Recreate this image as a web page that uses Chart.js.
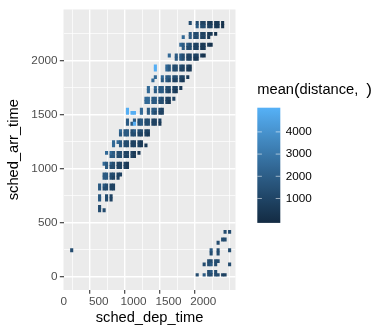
<!DOCTYPE html>
<html>
<head>
<meta charset="utf-8">
<script src="https://cdn.jsdelivr.net/npm/chart.js@4.4.0/dist/chart.umd.min.js"></script>
<style>
  html, body { margin: 0; padding: 0; background: #ffffff; }
  #wrap { width: 384px; height: 336px; }
</style>
</head>
<body>
<div id="wrap"><canvas id="chart"></canvas></div>
<script>
// --- datos ---
const xTicks = [0, 500, 1000, 1500, 2000];
const xMinor = [250, 750, 1250, 1750, 2250];
const yTicks = [0, 500, 1000, 1500, 2000];
const yMinor = [250, 750, 1250, 1750, 2250];
const legendBreaks = [1000, 2000, 3000, 4000];
const fillLimits = [-100, 5090];

// nivel -> distancia media estimada
const levelDist = { '1': 200, '2': 500, '3': 900, '4': 1300, '5': 1850, '6': 2450, '7': 3000, '8': 3700, '9': 4983 };

// franjas de media hora de llegada (inicio) y, por franja, "hora:AB" (A = :00-:29, B = :30-:59 de salida)
const arrSlots = [2330, 2300, 2230, 2200, 2130, 2100, 2030, 2000, 1930, 1900, 1830, 1800,
                  1730, 1700, 1630, 1600, 1530, 1500, 1430, 1400, 1330, 1300, 1230, 1200,
                  1130, 1100, 1030, 1000, 930, 900, 830, 800, 730, 700, 630, 600,
                  400, 330, 300, 230, 200, 130, 100, 30, 0];
const distRows = [
  "18:4. 19:43 20:32 21:22 22:21",
  "19:54 20:43 21:32 22:21",
  "18:54 19:43 20:32 21:21",
  "17:6. 18:54 19:43 20:32",
  "16:.6 17:55 18:43 19:32 20:22 21:1.",
  "17:54 18:43 19:32 20:2.",
  "15:6. 16:55 17:43 18:33 19:32 20:1.",
  "16:55 17:43 18:32 19:2.",
  "13:9. 14:.6 15:54 16:44 17:33 18:2.",
  "13:9. 14:.6 15:54 16:43 17:32 18:2.",
  "13:6. 14:65 15:54 16:43 17:32",
  "12:.6 14:55 15:43 16:33 17:2.",
  "12:6. 13:65 14:54 15:43 16:32",
  "12:6. 13:55 14:54 15:33 16:2.",
  "11:.6 12:65 13:55 14:43 15:33",
  "11:.6 12:65 13:54 14:43 15:2.",
  "9:9. 11:6. 12:55 13:54 14:3.",
  "9:99 10:9. 11:6. 12:55 13:43 14:3.",
  "9:5. 10:54 11:54 12:43 13:33",
  "9:55 10:94 11:54 12:43 13:32",
  "8:65 9:54 10:54 11:43 12:3.",
  "8:55 9:54 10:43 11:33 12:2.",
  "7:66 8:54 9:43 10:33 11:2.",
  "7:6. 8:54 9:43 10:33 11:22",
  "6:66 7:54 8:43 9:33 10:22",
  "6:.5 7:54 8:43 9:33 10:2.",
  "5:.6 6:55 7:43 8:33 9:2.",
  "6:54 7:43 8:33 9:2.",
  "5:.5 6:54 7:43 8:3.",
  "5:.5 6:54 7:33",
  "5:55 6:43 7:3.",
  "5:54 6:43 7:3.",
  "5:5. 6:43",
  "5:5. 6:43",
  "5:4.",
  "5:44",
  "23:44",
  "22:.4 23:4.",
  "22:4.",
  "1:4. 21:5. 22:4. 23:.4",
  "21:4. 22:4.",
  "20:.4 21:44 22:4.",
  "20:44 21:54 23:.4",
  "20:.4 21:54",
  "19:4. 20:54 21:44 22:43 23:3."
];

// --- construir celdas ---
const tiles = [];
arrSlots.forEach((arr, i) => {
  distRows[i].split(' ').forEach(g => {
    const [h, ab] = g.split(':');
    [0, 1].forEach(k => {
      const c = ab[k];
      if (c !== '.') tiles.push({ dep: Number(h) * 100 + k * 30, arr: arr, dist: levelDist[c] });
    });
  });
});

// --- escala de color (interpolación en Lab, como ggplot) ---
function hexToLab(hex) {
  const n = parseInt(hex.slice(1), 16);
  const lin = c => { c /= 255; return c <= 0.04045 ? c / 12.92 : Math.pow((c + 0.055) / 1.055, 2.4); };
  const r = lin((n >> 16) & 255), g = lin((n >> 8) & 255), b = lin(n & 255);
  const X = (0.4124 * r + 0.3576 * g + 0.1805 * b) / 0.95047;
  const Y = 0.2126 * r + 0.7152 * g + 0.0722 * b;
  const Z = (0.0193 * r + 0.1192 * g + 0.9505 * b) / 1.08883;
  const f = t => t > 0.008856 ? Math.cbrt(t) : 7.787 * t + 16 / 116;
  return [116 * f(Y) - 16, 500 * (f(X) - f(Y)), 200 * (f(Y) - f(Z))];
}
function labToRgb([L, a, bb]) {
  const fy = (L + 16) / 116, fx = fy + a / 500, fz = fy - bb / 200;
  const inv = t => t > 0.206893 ? t * t * t : (t - 16 / 116) / 7.787;
  const X = inv(fx) * 0.95047, Y = inv(fy), Z = inv(fz) * 1.08883;
  let r = 3.2406 * X - 1.5372 * Y - 0.4986 * Z;
  let g = -0.9689 * X + 1.8758 * Y + 0.0415 * Z;
  let b = 0.0557 * X - 0.2040 * Y + 1.0570 * Z;
  const gam = c => { c = c <= 0.0031308 ? 12.92 * c : 1.055 * Math.pow(c, 1 / 2.4) - 0.055; return Math.round(Math.min(1, Math.max(0, c)) * 255); };
  return `rgb(${gam(r)},${gam(g)},${gam(b)})`;
}
const lowLab = hexToLab('#132B43');
const highLab = hexToLab('#56B1F7');
function fillColor(v) {
  const t = Math.min(1, Math.max(0, (v - fillLimits[0]) / (fillLimits[1] - fillLimits[0])));
  return labToRgb(lowLab.map((c, i) => c + (highLab[i] - c) * t));
}

const FONT = 'Liberation Sans';
Chart.defaults.font.family = FONT;

// fondo gris del panel
const panelBg = {
  id: 'panelBg',
  beforeDraw(chart) {
    const { ctx, chartArea: a } = chart;
    ctx.save();
    ctx.fillStyle = '#EBEBEB';
    ctx.fillRect(a.left, a.top, a.right - a.left, a.bottom - a.top);
    ctx.restore();
  }
};

// leyenda de barra de color
const colorbar = {
  id: 'colorbar',
  afterDraw(chart) {
    const ctx = chart.ctx;
    const x0 = 257.3, w = 23, top = 107.7, h = 115.2, bottom = top + h;
    ctx.save();
    // título
    ctx.fillStyle = '#000000';
    ctx.textBaseline = 'alphabetic';
    let x = x0;
    const base = 94;
    ctx.font = `14.67px "${FONT}"`;
    ctx.fillText('mean', x, base); x += ctx.measureText('mean').width;
    ctx.font = `17px "${FONT}"`;
    ctx.fillText('(', x, base + 1); x += ctx.measureText('(').width;
    ctx.font = `14.67px "${FONT}"`;
    ctx.fillText('distance,', x, base); x += ctx.measureText('distance,').width + 8;
    ctx.font = `17px "${FONT}"`;
    ctx.fillText(')', x, base + 1);
    // barra
    const grad = ctx.createLinearGradient(0, bottom, 0, top);
    for (let i = 0; i <= 20; i++) {
      const v = fillLimits[0] + (fillLimits[1] - fillLimits[0]) * i / 20;
      grad.addColorStop(i / 20, fillColor(v));
    }
    ctx.fillStyle = grad;
    ctx.fillRect(x0, top, w, h);
    // marcas y etiquetas
    ctx.font = `11.73px "${FONT}"`;
    ctx.textBaseline = 'middle';
    ctx.textAlign = 'left';
    legendBreaks.forEach(b => {
      const y = bottom - (b - fillLimits[0]) / (fillLimits[1] - fillLimits[0]) * h;
      ctx.strokeStyle = 'rgba(255,255,255,0.55)';
      ctx.lineWidth = 1;
      ctx.beginPath();
      ctx.moveTo(x0, y); ctx.lineTo(x0 + w / 5, y);
      ctx.moveTo(x0 + w, y); ctx.lineTo(x0 + w - w / 5, y);
      ctx.stroke();
      ctx.fillStyle = '#000000';
      ctx.fillText(String(b), x0 + w + 5.5, y);
    });
    ctx.restore();
  }
};

const allX = [...xTicks, ...xMinor].sort((a, b) => a - b);
const allY = [...yTicks, ...yMinor].sort((a, b) => a - b);

function axisOpts(major, all, title, isX) {
  return {
    type: 'linear',
    offset: false,
    afterBuildTicks: s => { s.ticks = all.map(v => ({ value: v })); },
    afterFit: s => { if (isX) s.height = 46; else s.width = 63.5; },
    border: { display: false },
    grid: {
      color: '#FFFFFF',
      lineWidth: c => major.includes(c.tick && c.tick.value) ? 1.42 : 0.71,
      drawTicks: true,
      tickLength: 3.67,
      tickWidth: 1.1,
      tickColor: c => major.includes(c.tick && c.tick.value) ? '#333333' : 'rgba(0,0,0,0)'
    },
    ticks: {
      autoSkip: false,
      maxRotation: 0,
      color: '#4D4D4D',
      font: { size: 11.73 },
      padding: isX ? 1.5 : 2.4,
      callback: v => major.includes(v) ? String(v) : ''
    },
    title: {
      display: true,
      text: title,
      color: '#000000',
      font: { size: 14.67 },
      padding: isX ? { top: 0, bottom: 8.9 } : { top: 5, bottom: 0 }
    }
  };
}

// cada celda cubre su media hora de salida, algo ensanchada (los bloques horarios del original son más anchos)
const tileCenter = t => t.dep + (t.dep % 100 === 0 ? 12.5 : 47.5);

new Chart(document.getElementById('chart'), {
  type: 'bar',
  data: {
    datasets: [{
      data: tiles.map(t => ({ x: tileCenter(t), y: [t.arr, t.arr + 30] })),
      backgroundColor: c => fillColor(tiles[c.dataIndex].dist),
      borderWidth: 0,
      barPercentage: 1,
      categoryPercentage: 1
    }]
  },
  options: {
    responsive: true,
    maintainAspectRatio: false,
    devicePixelRatio: 1,
    animation: false,
    events: [],
    layout: { padding: { left: 0, right: 148.5, top: 6.5, bottom: 0 } },
    plugins: { legend: { display: false }, tooltip: { enabled: false } },
    scales: {
      x: Object.assign(axisOpts(xTicks, allX, 'sched_dep_time', true), { min: -5, max: 2462 }),
      y: Object.assign(axisOpts(yTicks, allY, 'sched_arr_time', false), { min: -122, max: 2471 })
    }
  },
  plugins: [panelBg, colorbar]
});
</script>
</body>
</html>
